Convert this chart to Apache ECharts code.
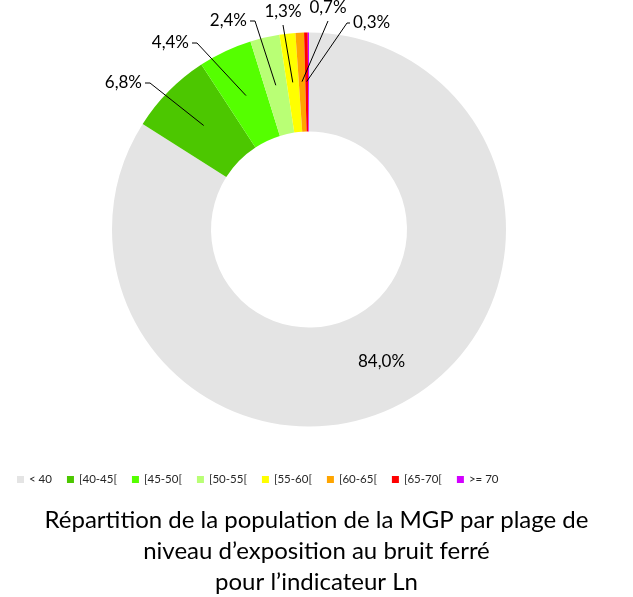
<!DOCTYPE html>
<html>
<head>
<meta charset="utf-8">
<script src="https://cdn.jsdelivr.net/npm/echarts@6/dist/echarts.min.js"></script>
<style>
  html, body { margin: 0; padding: 0; background: #fff; }
</style>
</head>
<body>
<div id="main" style="width:633px;height:597px;"></div>
<script>
// plages d'exposition (Ln)
var categories = ['< 40', '[40-45[', '[45-50[', '[50-55[', '[55-60[', '[60-65[', '[65-70[', '>= 70'];
// part de la population (%)
var values = [84.0, 6.8, 4.4, 2.4, 1.3, 0.7, 0.3, 0.1];
var colors = ['#e4e4e4', '#4cc700', '#55ff00', '#b9ff75', '#ffff00', '#ffa500', '#ff0000', '#d200ff'];

// position des étiquettes extérieures (x, y, alignement)
var labelPos = [
  null,
  [142, 83, 'right'],
  [189, 43, 'right'],
  [247, 21, 'right'],
  [283, 12, 'center'],
  [328, 8, 'center'],
  [353, 23, 'left'],
  null
];

var fontName = 'Lato';
var center = [309, 229.5];

function fmt(v) {
  return v.toFixed(1).replace('.', ',') + '%';
}

var mainDiv = echarts.init(document.getElementById('main'));

var ringData = categories.map(function (c, i) {
  return {
    name: c,
    value: values[i],
    itemStyle: { color: colors[i] },
    label: { show: i === 0 }
  };
});

// série invisible : sert seulement à placer les traits de rappel dans l'anneau
var guideData = categories.map(function (c, i) {
  var shown = labelPos[i] !== null;
  return {
    name: c,
    value: values[i],
    label: { show: shown },
    labelLine: { show: shown }
  };
});

var option = {
  animation: false,
  color: colors,
  title: {
    text: 'Répartition de la population de la MGP par plage de\nniveau d’exposition au bruit ferré\npour l’indicateur Ln',
    left: 'center',
    top: 505,
    padding: 0,
    textStyle: {
      fontFamily: fontName,
      fontSize: 24,
      fontWeight: 'normal',
      lineHeight: 31,
      color: '#000'
    }
  },
  legend: {
    data: categories,
    left: 17,
    top: 473.5,
    padding: 0,
    icon: 'rect',
    itemWidth: 7,
    itemHeight: 7,
    itemGap: 15,
    textStyle: { fontFamily: fontName, fontSize: 11.5, color: '#262626' }
  },
  series: [
    {
      type: 'pie',
      z: 2,
      center: center,
      radius: [98, 197],
      startAngle: 90,
      clockwise: true,
      avoidLabelOverlap: false,
      silent: true,
      data: ringData,
      label: {
        position: 'inside',
        formatter: function (p) { return fmt(p.value); },
        fontFamily: fontName,
        fontSize: 17,
        color: '#000'
      },
      labelLine: { show: false }
    },
    {
      type: 'pie',
      z: 5,
      center: center,
      radius: [0, 148],
      startAngle: 90,
      clockwise: true,
      avoidLabelOverlap: false,
      silent: true,
      data: guideData,
      itemStyle: { color: 'rgba(0,0,0,0)' },
      label: {
        position: 'outside',
        formatter: function (p) { return fmt(p.value); },
        fontFamily: fontName,
        fontSize: 17,
        color: '#000'
      },
      labelLine: {
        length: 10,
        length2: 5,
        lineStyle: { color: '#000', width: 1 }
      },
      labelLayout: function (params) {
        var pos = labelPos[params.dataIndex];
        if (!pos || !params.labelLinePoints) return {};
        var start = params.labelLinePoints[0];
        var x = pos[0], y = pos[1], align = pos[2];
        var pts;
        if (align === 'right') {
          pts = [start, [x + 8, y], [x + 3, y]];
        } else if (align === 'left') {
          pts = [start, [x - 6, y], [x - 3, y]];
        } else {
          pts = [start, [x, y + 13], [x, y + 13]];
        }
        return {
          x: x,
          y: y,
          align: align,
          verticalAlign: 'middle',
          labelLinePoints: pts
        };
      }
    }
  ]
};

mainDiv.setOption(option);
</script>
</body>
</html>
